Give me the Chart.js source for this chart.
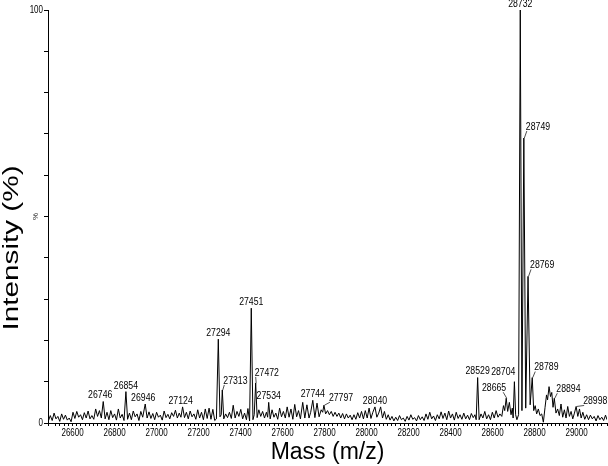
<!DOCTYPE html>
<html>
<head>
<meta charset="utf-8">
<script src="https://cdn.jsdelivr.net/npm/chart.js@4.4.1/dist/chart.umd.min.js"></script>
<style>
  html, body { margin: 0; padding: 0; background: #fff; }
  canvas { display: block; }
</style>
</head>
<body>
<canvas id="spectrum" width="608" height="466"></canvas>
<script>
// spectrum: mass (Da) and relative intensity (%)
const masses = [
  26485, 26494, 26503, 26512, 26521, 26530, 26539, 26548, 26557, 26566,
  26575, 26584, 26593, 26602, 26611, 26620, 26629, 26638, 26647, 26656,
  26665, 26674, 26683, 26692, 26701, 26710, 26719, 26728, 26737, 26746,
  26755, 26764, 26773, 26782, 26791, 26800, 26809, 26818, 26827, 26836,
  26845, 26854, 26862, 26871, 26880, 26889, 26898, 26907, 26916, 26925,
  26934, 26946, 26955, 26964, 26973, 26982, 26991, 27000, 27009, 27018,
  27027, 27036, 27045, 27054, 27063, 27072, 27081, 27090, 27099, 27108,
  27116, 27124, 27133, 27142, 27151, 27160, 27169, 27178, 27187, 27196,
  27205, 27214, 27223, 27232, 27241, 27250, 27259, 27268, 27277, 27285,
  27294, 27302, 27308, 27313, 27320, 27329, 27338, 27347, 27356, 27365,
  27374, 27383, 27392, 27401, 27410, 27419, 27428, 27435, 27443, 27451,
  27459, 27465, 27472, 27479, 27487, 27496, 27505, 27514, 27523, 27529,
  27534, 27541, 27550, 27559, 27568, 27577, 27586, 27595, 27604, 27613,
  27622, 27631, 27640, 27649, 27658, 27667, 27676, 27685, 27696, 27706,
  27716, 27726, 27734, 27744, 27754, 27764, 27774, 27784, 27791, 27797,
  27805, 27814, 27823, 27832, 27841, 27850, 27859, 27868, 27877, 27886,
  27895, 27904, 27913, 27922, 27931, 27940, 27949, 27958, 27967, 27976,
  27985, 27994, 28003, 28012, 28021, 28030, 28040, 28049, 28058, 28067,
  28076, 28085, 28094, 28103, 28112, 28121, 28130, 28139, 28148, 28157,
  28166, 28175, 28184, 28193, 28202, 28211, 28220, 28229, 28238, 28247,
  28256, 28265, 28274, 28283, 28292, 28301, 28310, 28319, 28328, 28337,
  28346, 28355, 28364, 28373, 28382, 28391, 28400, 28409, 28418, 28427,
  28436, 28445, 28454, 28463, 28472, 28481, 28490, 28499, 28508, 28516,
  28522, 28529, 28536, 28545, 28554, 28563, 28572, 28581, 28590, 28599,
  28608, 28617, 28626, 28635, 28644, 28652, 28658, 28665, 28672, 28680,
  28688, 28694, 28698, 28704, 28710, 28716, 28724, 28732, 28740, 28749,
  28758, 28769, 28779, 28789, 28796, 28803, 28810, 28818, 28826, 28834,
  28842, 28850, 28857, 28862, 28869, 28876, 28882, 28888, 28894, 28902,
  28910, 28918, 28926, 28934, 28942, 28950, 28958, 28966, 28974, 28982,
  28990, 28998, 29006, 29014, 29022, 29030, 29039, 29048, 29057, 29066,
  29075, 29084, 29093, 29102, 29111, 29120, 29129, 29138, 29145
];
const intensities = [
  0.5, 1.8, 0.6, 2.4, 1.0, 1.6, 0.4, 2.2, 0.9, 1.9,
  0.7, 1.2, 0.3, 2.6, 1.1, 2.8, 1.4, 2.0, 0.8, 2.5,
  1.2, 2.9, 1.0, 1.8, 0.9, 3.4, 1.6, 3.0, 1.2, 5.2,
  1.0, 2.6, 0.8, 3.0, 1.3, 2.2, 0.7, 3.4, 1.2, 2.1,
  0.6, 7.6, 0.9, 2.4, 0.8, 2.9, 1.5, 2.2, 0.6, 2.8,
  1.4, 4.6, 1.2, 2.7, 1.1, 2.3, 0.8, 2.6, 1.4, 1.9,
  0.7, 2.9, 1.3, 2.1, 1.0, 2.5, 1.6, 3.1, 1.2, 2.4,
  1.4, 3.9, 1.3, 2.6, 1.0, 2.9, 1.5, 2.2, 0.9, 3.2,
  1.2, 2.6, 0.8, 3.4, 1.1, 3.6, 0.9, 3.3, 0.6, 1.0,
  20.3, 1.5, 2.0, 8.0, 1.0, 2.2, 1.3, 2.6, 1.1, 4.3,
  1.2, 2.8, 1.6, 3.3, 1.0, 2.4, 0.8, 3.5, 0.5, 27.8,
  0.8, 2.0, 9.7, 1.3, 3.2, 1.6, 2.8, 1.2, 2.6, 1.4,
  5.0, 1.0, 3.2, 1.4, 2.4, 0.9, 3.6, 1.5, 2.8, 1.2,
  3.9, 1.4, 3.4, 0.9, 4.5, 1.5, 3.0, 1.0, 5.0, 1.2,
  4.4, 1.2, 2.6, 5.5, 1.3, 4.8, 1.5, 3.2, 2.6, 4.3,
  2.2, 3.0, 2.0, 2.8, 1.6, 2.6, 1.6, 2.4, 1.2, 2.3,
  1.0, 2.2, 1.2, 1.9, 0.8, 2.0, 0.9, 2.5, 1.2, 2.8,
  1.0, 3.0, 1.2, 3.6, 1.1, 2.6, 3.9, 1.4, 2.4, 3.9,
  1.2, 2.8, 0.9, 2.0, 0.7, 1.6, 0.5, 1.4, 0.6, 1.8,
  0.8, 1.2, 0.4, 1.6, 0.7, 2.0, 0.9, 1.3, 0.5, 1.8,
  0.8, 1.5, 0.6, 2.2, 0.9, 2.6, 1.0, 1.7, 0.6, 2.0,
  1.0, 2.7, 1.1, 2.4, 0.8, 2.9, 1.2, 2.2, 0.7, 2.6,
  1.1, 2.0, 0.9, 2.4, 1.0, 1.9, 0.8, 2.3, 1.3, 2.0,
  0.8, 11.0, 0.8, 2.2, 1.2, 2.8, 1.0, 2.0, 0.8, 2.6,
  1.2, 3.0, 1.4, 2.2, 1.6, 4.2, 3.0, 6.0, 2.8, 5.0,
  2.0, 3.6, 1.2, 10.0, 2.0, 0.8, 2.0, 100, 3.0, 69.0,
  3.6, 35.5, 4.4, 11.0, 3.0, 4.2, 2.2, 3.4, 1.8, 2.2,
  0.2, 3.8, 6.8, 5.6, 8.8, 6.4, 7.4, 3.8, 6.0, 2.4,
  3.4, 1.8, 4.6, 1.4, 3.2, 1.2, 4.0, 1.6, 2.8, 1.0,
  2.4, 4.0, 1.6, 3.4, 1.2, 2.6, 0.9, 2.0, 0.8, 1.9,
  1.0, 1.6, 0.5, 1.8, 0.8, 1.4, 0.6, 1.9, 0.8
];
// labelled peaks
const peakLabels = [26746, 26854, 26946, 27124, 27294, 27313, 27451, 27472, 27534, 27744,
  27797, 28040, 28529, 28665, 28704, 28732, 28749, 28769, 28789, 28894, 28998];
// labelled ticks
const yTickLabels = { 100: '100', 0: '0' };

const xMin = 26483, xMax = 29145;
const FONT = "'Liberation Sans', Arial, sans-serif";

// where each label sits relative to its peak tip (px); lead = draw a leader line
const placement = {
  26746: { dx: -3, dy: -6 },
  26946: { dx: -2, dy: -6 },
  27124: { dx: -2, dy: -6 },
  27313: { dx: 1, dy: -9, align: 'left', lead: true },
  27472: { dx: -1, dy: -10, align: 'left', lead: true },
  27797: { dx: 5, dy: -7, align: 'left', lead: true },
  28665: { dx: 0, dy: -10, align: 'right', lead: true },
  28704: { dx: 1, dy: -10, align: 'right' },
  28749: { dx: 2, dy: -11, align: 'left', lead: true },
  28769: { dx: 2, dy: -11, align: 'left', lead: true },
  28789: { dx: 2, dy: -10, align: 'left', lead: true },
  28894: { dx: 2, dy: -9, align: 'left', lead: true },
  28998: { dx: 7, dy: -5, align: 'left', lead: true }
};

// narrow text: the original uses a condensed face, so squeeze horizontally
function narrowText(ctx, text, x, y, align, size, squeeze) {
  ctx.save();
  ctx.translate(x, y);
  ctx.scale(squeeze, 1);
  ctx.font = size + 'px ' + FONT;
  ctx.textAlign = align;
  ctx.textBaseline = 'middle';
  ctx.fillText(text, 0, 0);
  ctx.restore();
}

const peakLabelPlugin = {
  id: 'peakLabels',
  afterDatasetsDraw(chart) {
    const { ctx, scales: { x, y } } = chart;
    ctx.save();
    ctx.fillStyle = '#000';
    ctx.strokeStyle = '#222';
    ctx.lineWidth = 0.8;
    peakLabels.forEach(m => {
      const i = masses.indexOf(m);
      if (i < 0) return;
      const px = x.getPixelForValue(m);
      const py = y.getPixelForValue(intensities[i]);
      const p = placement[m] || { dx: 0, dy: -6 };
      const align = p.align || 'center';
      const tx = px + p.dx;
      const ty = py + p.dy;
      narrowText(ctx, String(m), tx, ty, align, 10.5, 0.83);
      if (p.lead) {
        ctx.beginPath();
        ctx.moveTo(px + 0.5, py);
        ctx.lineTo(align === 'right' ? tx - 3 : tx + 1, ty + 4);
        ctx.stroke();
      }
    });
    ctx.restore();
  },
  afterDraw(chart) {
    const { ctx, chartArea, scales: { x, y } } = chart;
    ctx.save();
    ctx.fillStyle = '#000';
    // x tick labels every 200
    x.ticks.forEach(t => {
      if (t.value % 200 !== 0) return;
      narrowText(ctx, String(t.value), x.getPixelForValue(t.value), chartArea.bottom + 10, 'center', 10, 0.8);
    });
    // y tick labels
    Object.keys(yTickLabels).forEach(v => {
      narrowText(ctx, yTickLabels[v], chartArea.left - 5, y.getPixelForValue(Number(v)), 'right', 10, 0.8);
    });
    ctx.restore();

    // axis title, stretched along its length like the original
    ctx.save();
    ctx.translate(12, 248);
    ctx.rotate(-Math.PI / 2);
    ctx.scale(1.35, 1);
    ctx.font = '22px ' + FONT;
    ctx.fillStyle = '#000';
    ctx.textAlign = 'center';
    ctx.textBaseline = 'middle';
    ctx.fillText('Intensity (%)', 0, 0);
    ctx.restore();

    // little sideways % at the middle of the y axis
    ctx.save();
    ctx.translate(36, y.getPixelForValue(50));
    ctx.rotate(-Math.PI / 2);
    ctx.font = '8px ' + FONT;
    ctx.fillStyle = '#222';
    ctx.textAlign = 'center';
    ctx.textBaseline = 'middle';
    ctx.fillText('%', 0, 0);
    ctx.restore();
  }
};

new Chart(document.getElementById('spectrum'), {
  type: 'line',
  data: {
    datasets: [{
      data: masses.map((m, i) => ({ x: m, y: intensities[i] })),
      borderColor: '#000',
      borderWidth: 1,
      pointRadius: 0,
      tension: 0,
      fill: false
    }]
  },
  options: {
    responsive: false,
    animation: false,
    layout: { padding: { top: 10, right: 1, left: 0, bottom: 0 } },
    plugins: { legend: { display: false }, tooltip: { enabled: false } },
    scales: {
      x: {
        type: 'linear',
        min: xMin,
        max: xMax,
        border: { color: '#000', width: 1 },
        grid: { drawOnChartArea: false, drawTicks: true, tickLength: 3, tickColor: '#000' },
        ticks: {
          stepSize: 20,
          autoSkip: false,
          maxRotation: 0,
          padding: 1,
          font: { size: 10, family: FONT },
          callback: () => ''
        },
        title: {
          display: true,
          text: 'Mass (m/z)',
          color: '#000',
          font: { size: 23, family: FONT },
          padding: 0
        },
        afterFit: s => { s.height = 43; }
      },
      y: {
        min: 0,
        max: 100,
        border: { color: '#000', width: 1 },
        grid: { drawOnChartArea: false, drawTicks: true, tickLength: 4, tickColor: '#000' },
        ticks: {
          stepSize: 10,
          padding: 1,
          font: { size: 9, family: FONT },
          callback: () => ''
        },
        afterFit: s => { s.width = 48; }
      }
    }
  },
  plugins: [peakLabelPlugin]
});
</script>
</body>
</html>
